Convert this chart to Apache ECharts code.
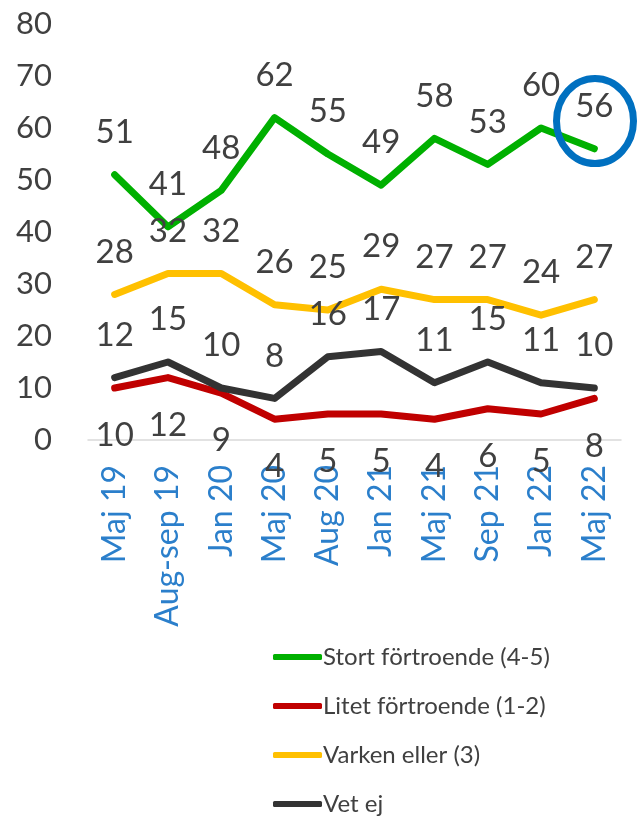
<!DOCTYPE html>
<html>
<head>
<meta charset="utf-8">
<script src="https://cdn.jsdelivr.net/npm/echarts@6/dist/echarts.min.js"></script>
<style>
  html, body { margin: 0; padding: 0; background: #fff; }
  #chart { width: 639px; height: 820px; }
</style>
</head>
<body>
<div id="chart"></div>
<script>
// mätningar
var categories = ['Maj 19', 'Aug-sep 19', 'Jan 20', 'Maj 20', 'Aug 20', 'Jan 21', 'Maj 21', 'Sep 21', 'Jan 22', 'Maj 22'];
var stort = [51, 41, 48, 62, 55, 49, 58, 53, 60, 56];
var litet = [10, 12, 9, 4, 5, 5, 4, 6, 5, 8];
var varken = [28, 32, 32, 26, 25, 29, 27, 27, 24, 27];
var vetEj = [12, 15, 10, 8, 16, 17, 11, 15, 11, 10];
var seriesNames = ['Stort förtroende (4-5)', 'Litet förtroende (1-2)', 'Varken eller (3)', 'Vet ej'];
var colors = ['#00B000', '#C00000', '#FFC000', '#333333'];

var font = 'Lato, "Open Sans", sans-serif';
var textColor = '#404040';

function lineSeries(name, data, color, below) {
  return {
    name: name,
    type: 'line',
    data: data,
    symbol: 'circle',
    symbolSize: 2,
    showSymbol: true,
    itemStyle: { color: color },
    lineStyle: { color: color, width: 7, cap: 'round', join: 'round' },
    label: {
      show: true,
      position: below ? 'bottom' : 'top',
      distance: below ? 30 : 25,
      color: textColor,
      fontSize: 33,
      fontFamily: font
    },
    emphasis: { disabled: true },
    z: below ? 2 : 3
  };
}

var chart = echarts.init(document.getElementById('chart'), null, { renderer: 'canvas' });

var option = {
  animation: false,
  grid: { left: 88, right: 18, top: 24, height: 416 },
  xAxis: {
    type: 'category',
    data: categories,
    boundaryGap: true,
    axisLine: { show: true, lineStyle: { color: '#D9D9D9', width: 1.5 } },
    axisTick: { show: false },
    axisLabel: {
      rotate: 90,
      margin: 25,
      interval: 0,
      color: '#2B7FCB',
      fontSize: 32,
      fontFamily: font
    }
  },
  yAxis: {
    type: 'value',
    min: 0,
    max: 80,
    interval: 10,
    axisLine: { show: false },
    axisTick: { show: false },
    splitLine: { show: false },
    axisLabel: {
      margin: 36,
      color: textColor,
      fontSize: 31,
      fontFamily: font
    }
  },
  legend: {
    orient: 'vertical',
    left: 273,
    top: 644,
    height: 176,
    padding: 0,
    itemWidth: 49,
    itemHeight: 6,
    itemGap: 23,
    icon: 'roundRect',
    data: seriesNames,
    textStyle: {
      color: textColor,
      fontSize: 24,
      fontFamily: font,
      lineHeight: 26,
      padding: [0, 0, 0, -4]
    }
  },
  series: [
    lineSeries(seriesNames[0], stort, colors[0], false),
    lineSeries(seriesNames[1], litet, colors[1], true),
    lineSeries(seriesNames[2], varken, colors[2], false),
    lineSeries(seriesNames[3], vetEj, colors[3], false)
  ],
  graphic: [{
    type: 'ellipse',
    shape: { cx: 595, cy: 121, rx: 38.5, ry: 42.5 },
    style: { fill: 'none', stroke: '#0070C0', lineWidth: 7 },
    z: 10
  }]
};

chart.setOption(option);
</script>
</body>
</html>
